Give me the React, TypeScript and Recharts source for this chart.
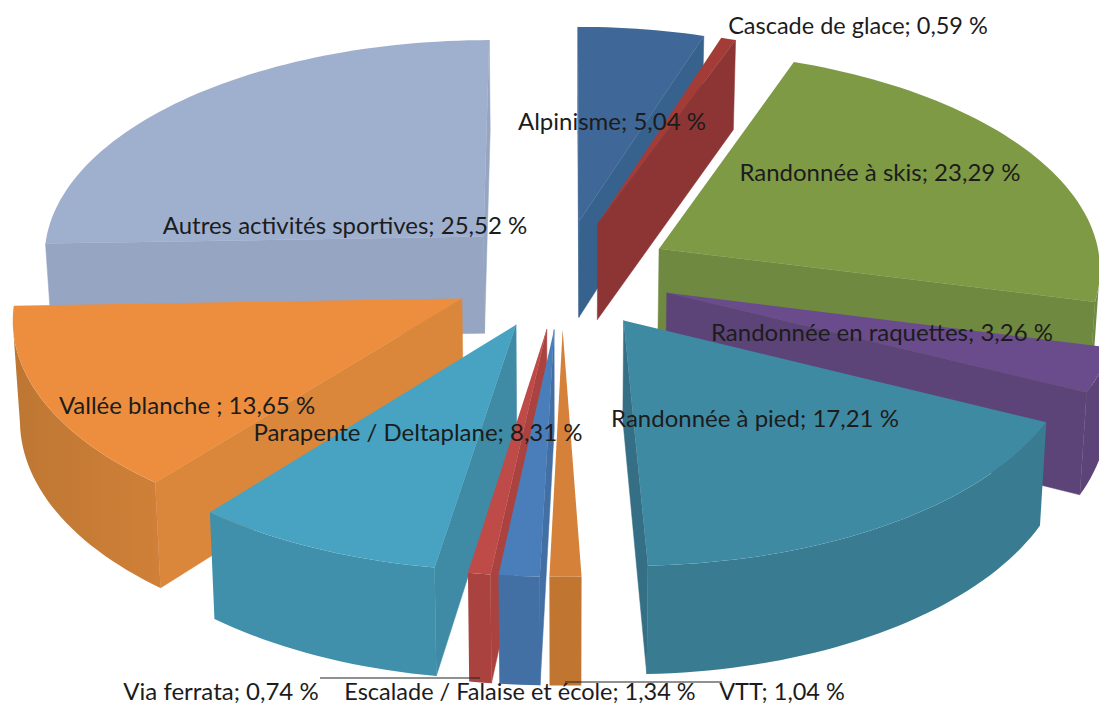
import React from 'react';
import { PieChart, Pie } from 'recharts';

const names = [
  'Alpinisme',
  'Cascade de glace',
  'Randonnée à skis',
  'Randonnée en raquettes',
  'Randonnée à pied',
  'VTT',
  'Escalade / Falaise et école',
  'Via ferrata',
  'Parapente / Deltaplane',
  'Vallée blanche ',
  'Autres activités sportives',
];
const values = [5.04, 0.59, 23.29, 3.26, 17.21, 1.04, 1.34, 0.74, 8.31, 13.65, 25.52];
const topColors = ['#3f6797', '#a33b36', '#7e9a45', '#6a4c8c', '#3f8aa3', '#d5813a', '#4a7ebb', '#be4b48', '#47a3c1', '#ec8e3e', '#9fb0cf'];
const outerColors = ['#3a6390', '#8c3534', '#6f8a40', '#5d4478', '#397c92', '#c07531', '#426fa4', '#aa4240', '#4190ab', '#d08038', '#96a5c2'];
const outerLeftColors = ['#3a6390', '#8c3534', '#6f8a40', '#5d4478', '#397c92', '#c07531', '#426fa4', '#aa4240', '#4190ab', '#bd7733', '#96a5c2'];
const sideColors = ['#38628e', '#8c3534', '#6f8a40', '#5d4478', '#356f85', '#c07531', '#426fa4', '#aa4240', '#3f8ba6', '#da873b', '#96a5c2'];

// label centres, relative to the pie centre, and their font sizes
const labelOffsets = [
  [50, -154], [296, -249], [318, -103], [320, 57], [193, 143], [220, 417],
  [-42, 417], [-341, 416], [-144, 157], [-375, 130], [-217, -50],
];
const labelSizes = [24, 23.5, 24, 24, 24, 23.5, 23.5, 24, 24, 24, 24];

const rows = names.map((name, i) => ({ name, value: values[i] }));
// painter's order: each half is drawn from the back of the pie to the front
const rightRows = rows.slice(0, 6);
const leftRows = rows.slice(6).reverse();
const sum = (list: { value: number }[]) => list.reduce((acc, r) => acc + r.value, 0);

const WIDTH = 1099;
const HEIGHT = 704;
const CX = 562;
const CY = 274;
const RADIUS = 443;
const TILT = 0.492;
const PERSPECTIVE = 0.08;
const EXPLODE = 0.25;
const DEPTH = 98;
const CONVERGE = 0.987;

type Pt = { x: number; y: number; bx: number; by: number };

function Slice3D(props: any) {
  const { cx, cy, outerRadius: R, startAngle, endAngle } = props;
  const i = names.indexOf(props.name ?? props.payload?.name);
  const rad = (a: number) => (a * Math.PI) / 180;
  const mid = (startAngle + endAngle) / 2;
  const ox = EXPLODE * Math.cos(rad(mid));
  const oz = EXPLODE * Math.sin(rad(mid));

  const project = (u: number, v: number): Pt => {
    const w = 1 + PERSPECTIVE * v;
    const x = cx + (R * u) / w;
    const y = cy - (R * TILT * v) / w;
    return { x, y, bx: cx + (x - cx) * CONVERGE, by: y + DEPTH / w };
  };

  const apex = project(ox, oz);
  const steps = Math.max(2, Math.ceil(Math.abs(endAngle - startAngle) / 1.5));
  const arc: Pt[] = [];
  for (let s = 0; s <= steps; s++) {
    const a = rad(startAngle + ((endAngle - startAngle) * s) / steps);
    arc.push(project(ox + Math.cos(a), oz + Math.sin(a)));
  }

  const poly = (pts: number[][]) => pts.map((p) => p.join(',')).join(' ');
  const ring = [apex, ...arc];
  const area = ring.reduce((acc, p, k) => {
    const q = ring[(k + 1) % ring.length];
    return acc + p.x * q.y - q.x * p.y;
  }, 0);
  // an edge's wall shows when the outward side of that edge faces down the screen
  const faces = (p: Pt, q: Pt) => (area > 0 ? p.x - q.x : q.x - p.x) > 0;
  const wall = (p: Pt, q: Pt) => [[p.x, p.y], [q.x, q.y], [q.bx, q.by], [p.bx, p.by]];

  // one polygon for the visible stretch of the rim, so no seams show
  const rim: Pt[] = arc.filter((p, k) => {
    const prev = arc[k - 1];
    const next = arc[k + 1];
    return (prev && faces(prev, p)) || (next && faces(p, next));
  });
  const rimPoints = [...rim.map((p) => [p.x, p.y]), ...[...rim].reverse().map((p) => [p.bx, p.by])];
  const gradientId = `rim-${i}`;

  const first = arc[0];
  const last = arc[arc.length - 1];
  return (
    <g>
      <defs>
        <linearGradient id={gradientId} x1="0" y1="0" x2="1" y2="0">
          <stop offset="0%" stopColor={outerLeftColors[i]} />
          <stop offset="100%" stopColor={outerColors[i]} />
        </linearGradient>
      </defs>
      {faces(apex, first) && (
        <polygon points={poly(wall(apex, first))} fill={sideColors[i]} stroke={sideColors[i]} strokeWidth={0.5} />
      )}
      {faces(last, apex) && (
        <polygon points={poly(wall(last, apex))} fill={sideColors[i]} stroke={sideColors[i]} strokeWidth={0.5} />
      )}
      {rim.length > 1 && <polygon points={poly(rimPoints)} fill={`url(#${gradientId})`} />}
      <polygon points={poly(ring.map((p) => [p.x, p.y]))} fill={topColors[i]} />
    </g>
  );
}

function SliceLabel(props: any) {
  const { cx, cy, name, value } = props;
  const i = names.indexOf(name ?? props.payload?.name);
  const [dx, dy] = labelOffsets[i];
  const text = `${name}; ${String(value).replace('.', ',')} %`;
  return (
    <g>
      {name === 'Via ferrata' && <line x1={cx - 242} y1={cy + 404} x2={cx - 82} y2={cy + 404} stroke="#222" />}
      {name === 'VTT' && <line x1={cx + 3} y1={cy + 408} x2={cx + 160} y2={cy + 408} stroke="#222" />}
      <text
        x={cx + dx}
        y={cy + dy}
        textAnchor="middle"
        dominantBaseline="central"
        fontFamily="Lato, 'Open Sans', sans-serif"
        fontSize={labelSizes[i]}
        fill="#1c1c1c"
      >
        {text}
      </text>
    </g>
  );
}

export default function App() {
  return (
    <div style={{ position: 'absolute', left: 0, top: 0, width: WIDTH, height: HEIGHT, overflow: 'hidden', background: '#fff' }}>
      <PieChart width={WIDTH} height={HEIGHT} margin={{ top: 0, right: 0, bottom: 0, left: 0 }}>
        <Pie
          data={leftRows}
          dataKey="value"
          nameKey="name"
          cx={CX}
          cy={CY}
          outerRadius={RADIUS}
          startAngle={90}
          endAngle={90 + sum(leftRows) * 3.6}
          shape={Slice3D}
          isAnimationActive={false}
        />
        <Pie
          data={rightRows}
          dataKey="value"
          nameKey="name"
          cx={CX}
          cy={CY}
          outerRadius={RADIUS}
          startAngle={90}
          endAngle={90 - sum(rightRows) * 3.6}
          shape={Slice3D}
          isAnimationActive={false}
        />
        <Pie
          data={rows}
          dataKey="value"
          nameKey="name"
          cx={CX}
          cy={CY}
          outerRadius={RADIUS}
          shape={() => <g />}
          label={SliceLabel}
          labelLine={false}
          isAnimationActive={false}
        />
      </PieChart>
    </div>
  );
}
